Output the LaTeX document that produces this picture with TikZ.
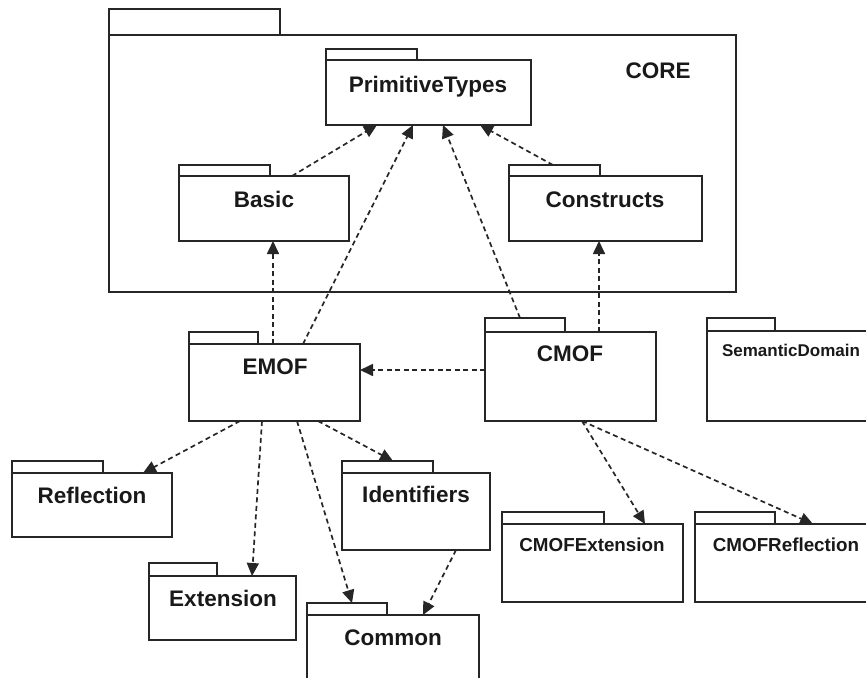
\documentclass[tikz,border=0pt]{standalone}
\usepackage{fontspec}
\setmainfont{Liberation Sans}
\usetikzlibrary{arrows.meta}
\begin{document}
\begin{tikzpicture}[x=1pt,y=-1pt,
  pkgbody/.style={draw=black!85, line width=1.6pt, fill=white, inner sep=0pt, outer sep=0pt, anchor=north west},
  pkgtab/.style={draw=black!85, line width=1.6pt, fill=white, inner sep=0pt, outer sep=0pt, anchor=south west},
  pkglabel/.style={font=\bfseries\fontsize{22.5}{26}\selectfont, anchor=base, inner sep=0pt, text=black!90},
  smalllabel/.style={pkglabel, font=\bfseries\fontsize{17}{20}\selectfont},
  midlabel/.style={pkglabel, font=\bfseries\fontsize{18.8}{22}\selectfont},
  dep/.style={draw=black!85, line width=1.7pt, dash pattern=on 5pt off 3.5pt,
              -{Triangle[length=13pt,width=12pt]}},
]
\useasboundingbox (0,0) rectangle (866,677);
\clip (0,0) rectangle (866,677);

% CORE package with its nested packages
\node[pkgbody, minimum width=627pt, minimum height=257pt] (core) at (109,35) {};
\node[pkgtab, minimum width=171pt, minimum height=26pt] (coretab) at (core.north west) {};
\node[pkglabel] (corelbl) at (658,78) {CORE};

\node[pkgbody, minimum width=205pt, minimum height=65pt] (prim) at (326,60) {};
\node[pkgtab, minimum width=91pt, minimum height=11pt] (primtab) at (prim.north west) {};
\node[pkglabel] (primlbl) at (428,92) {PrimitiveTypes};

\node[pkgbody, minimum width=170pt, minimum height=65pt] (basic) at (179,176) {};
\node[pkgtab, minimum width=91pt, minimum height=11pt] (basictab) at (basic.north west) {};
\node[pkglabel] (basiclbl) at (264,207) {Basic};

\node[pkgbody, minimum width=193pt, minimum height=65pt] (constructs) at (509,176) {};
\node[pkgtab, minimum width=91pt, minimum height=11pt] (constructstab) at (constructs.north west) {};
\node[pkglabel] (constructslbl) at (605,207) {Constructs};

% MOF level packages
\node[pkgbody, minimum width=171pt, minimum height=77pt] (emof) at (189,344) {};
\node[pkgtab, minimum width=69pt, minimum height=12pt] (emoftab) at (emof.north west) {};
\node[pkglabel] (emoflbl) at (275,374) {EMOF};

\node[pkgbody, minimum width=171pt, minimum height=89pt] (cmof) at (485,332) {};
\node[pkgtab, minimum width=80pt, minimum height=14pt] (cmoftab) at (cmof.north west) {};
\node[pkglabel] (cmoflbl) at (570,361) {CMOF};

\node[pkgbody, minimum width=180pt, minimum height=90pt] (semdom) at (707,331) {};
\node[pkgtab, minimum width=68pt, minimum height=13pt] (semdomtab) at (semdom.north west) {};
\node[smalllabel] (semdomlbl) at (791,356) {SemanticDomain};

% EMOF sub-packages
\node[pkgbody, minimum width=160pt, minimum height=64pt] (refl) at (12,473) {};
\node[pkgtab, minimum width=91pt, minimum height=12pt] (refltab) at (refl.north west) {};
\node[pkglabel] (refllbl) at (92,503) {Reflection};

\node[pkgbody, minimum width=148pt, minimum height=77pt] (ident) at (342,473) {};
\node[pkgtab, minimum width=91pt, minimum height=12pt] (identtab) at (ident.north west) {};
\node[pkglabel] (identlbl) at (416,502) {Identifiers};

\node[pkgbody, minimum width=147pt, minimum height=64pt] (ext) at (149,576) {};
\node[pkgtab, minimum width=68pt, minimum height=13pt] (exttab) at (ext.north west) {};
\node[pkglabel] (extlbl) at (223,606) {Extension};

\node[pkgbody, minimum width=172pt, minimum height=80pt] (common) at (307,615) {};
\node[pkgtab, minimum width=80pt, minimum height=12pt] (commontab) at (common.north west) {};
\node[pkglabel] (commonlbl) at (393,645) {Common};

% CMOF sub-packages
\node[pkgbody, minimum width=181pt, minimum height=78pt] (cmofext) at (502,524) {};
\node[pkgtab, minimum width=102pt, minimum height=12pt] (cmofexttab) at (cmofext.north west) {};
\node[midlabel] (cmofextlbl) at (592,551) {CMOFExtension};

\node[pkgbody, minimum width=190pt, minimum height=78pt] (cmofrefl) at (695,524) {};
\node[pkgtab, minimum width=80pt, minimum height=12pt] (cmofrefltab) at (cmofrefl.north west) {};
\node[midlabel] (cmofrefllbl) at (786,551) {CMOFReflection};

% dependencies
\draw[dep] ([xshift=113pt]basic.north west) -- ([xshift=51pt]prim.south west);
\draw[dep] ([xshift=114pt]emof.north west) -- ([xshift=87pt]prim.south west);
\draw[dep] ([xshift=35pt]cmoftab.north west) -- ([xshift=117pt]prim.south west);
\draw[dep] ([xshift=44pt]constructstab.north west) -- ([xshift=154pt]prim.south west);
\draw[dep] ([xshift=84pt]emof.north west) -- ([xshift=94pt]basic.south west);
\draw[dep] ([xshift=114pt]cmof.north west) -- ([xshift=90pt]constructs.south west);
\draw[dep] ([yshift=6.5pt]cmof.west) -- ([yshift=12.5pt]emof.east);
\draw[dep] ([xshift=51pt]emof.south west) -- ([xshift=131pt]refl.north west);
\draw[dep] ([xshift=73pt]emof.south west) -- ([xshift=103pt]ext.north west);
\draw[dep] ([xshift=108pt]emof.south west) -- ([xshift=45pt]commontab.north west);
\draw[dep] ([xshift=129pt]emof.south west) -- ([xshift=51pt]identtab.north west);
\draw[dep] ([xshift=114pt]ident.south west) -- ([xshift=116pt]common.north west);
\draw[dep] ([xshift=97pt]cmof.south west) -- ([xshift=143pt]cmofext.north west);
\draw[dep] ([xshift=97pt]cmof.south west) -- ([xshift=118pt]cmofrefl.north west);
\end{tikzpicture}
\end{document}
